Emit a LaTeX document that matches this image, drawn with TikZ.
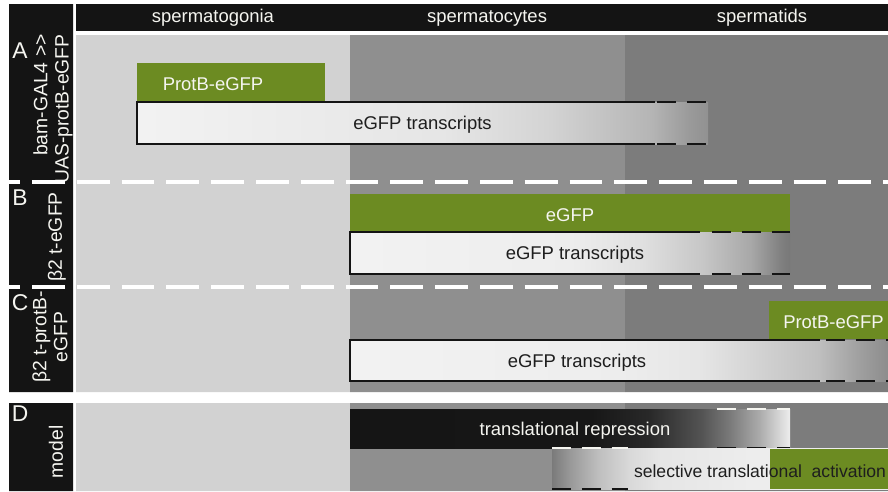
\documentclass[tikz,border=0pt]{standalone}
\usepackage{fontspec}
\setmainfont{Liberation Sans}
\usetikzlibrary{positioning,fit,calc}
\definecolor{mygreen}{RGB}{108,139,34}
\definecolor{mygonia}{RGB}{210,210,210}
\definecolor{mycytes}{RGB}{143,143,143}
\definecolor{mytids}{RGB}{124,124,124}
\definecolor{myblack}{RGB}{20,20,20}
\definecolor{mytext}{RGB}{30,30,30}
\definecolor{mywhite}{RGB}{245,245,240}
\pgfdeclarehorizontalshading{fadeA}{100bp}{color(0bp)=(black!5); color(25bp)=(black!5); color(52bp)=(black!10); color(61bp)=(black!17); color(70bp)=(black!29); color(73.5bp)=(black!40); color(75bp)=(black!43); color(100bp)=(black!43)}
\pgfdeclarehorizontalshading{fadeB}{100bp}{color(0bp)=(black!5); color(25bp)=(black!5); color(50bp)=(black!7); color(58bp)=(black!12); color(65bp)=(black!22); color(70.5bp)=(black!34); color(74bp)=(black!50); color(75bp)=(black!53); color(100bp)=(black!53)}
\pgfdeclarehorizontalshading{fadeC}{100bp}{color(0bp)=(black!5); color(25bp)=(black!5); color(50bp)=(black!7); color(57.5bp)=(black!10); color(68.5bp)=(black!25); color(72.5bp)=(black!38); color(75bp)=(black!45); color(100bp)=(black!45)}
\pgfdeclarehorizontalshading{fadeD}{100bp}{color(0bp)=(black!92); color(25bp)=(black!92); color(52.5bp)=(black!91); color(59bp)=(black!84); color(65bp)=(black!67); color(68bp)=(black!53); color(71.5bp)=(black!33); color(75bp)=(black!7); color(100bp)=(black!7)}
\pgfdeclarehorizontalshading{fadeE}{100bp}{color(0bp)=(black!52); color(25bp)=(black!52); color(27.7bp)=(black!40); color(32bp)=(black!25); color(36.5bp)=(black!15); color(41bp)=(black!10); color(55bp)=(black!7); color(75bp)=(black!7); color(100bp)=(black!7)}

\begin{document}
\begin{tikzpicture}[x=0.02cm,y=-0.02cm,
  txt/.style={font=\fontsize{10.5}{12.5}\selectfont},
  htext/.style={txt,text=mywhite},
  ttext/.style={txt,text=mytext},
  gl/.style={htext,yshift=-1pt},
  tl/.style={ttext,yshift=-1pt},
  gnode/.style={fill=mygreen,inner sep=0pt,outer sep=0pt},
  tnode/.style={shade,inner sep=0pt,outer sep=0pt},
  rnode/.style={text=mywhite,font=\fontsize{13}{15}\selectfont},
  lnode/.style={text=mywhite,font=\fontsize{11}{12}\selectfont,rotate=90,align=center,inner sep=0pt},
  rim/.style={draw=myblack,line width=1.2pt},
  dashrim/.style={rim,dash pattern=on 11pt off 6pt},
  wdashrim/.style={dashrim,draw=mywhite},
  sepline/.style={draw=white,line width=2.3pt,dash pattern=on 18.7pt off 6.8pt,dash phase=11.9pt}]

  \useasboundingbox (0,0) rectangle (888,491);
  \fill[white] (0,0) rectangle (888,491);

  % stages
  \fill[mygonia] (76,35) rectangle (350,392) (76,403) rectangle (350,491);
  \fill[mycytes] (350,35) rectangle (625,392) (350,403) rectangle (625,491);
  \fill[mytids] (625,35) rectangle (888,392) (625,403) rectangle (888,491);
  \fill[myblack] (76,4) rectangle (888,31);
  \fill[myblack] (9,4) rectangle (73,392) (9,403) rectangle (73,491);

  \node[htext] (gonia) at (213,18) {spermatogonia};
  \node[htext] (cytes) at (487,18) {spermatocytes};
  \node[htext] (tids) at (762,18) {spermatids};

  % row labels
  \node[rnode] (rowA) at (20,51) {A};
  \node[lnode,align=right] (labA) at (53,109) {bam-GAL4 >{}>\\UAS-protB-eGFP};
  \node[rnode] (rowB) at (20,198) {B};
  \node[lnode] (labB) at (57,237) {β2 t-eGFP};
  \node[rnode] (rowC) at (20,303) {C};
  \node[lnode] (labC) at (50,337) {β2 t-protB-\\eGFP};
  \node[rnode] (rowD) at (20,414) {D};
  \node[lnode] (labD) at (56,452) {model};

  \draw[sepline] (8,182) -- (888,182);
  \draw[sepline] (8,287) -- (888,287);

  % A
  \node[gnode,fit={(137,63) (325,102)},label={[gl,xshift=-0.36cm]center:ProtB-eGFP}] (protA) {};
  \node[tnode,shading=fadeA,fit={(137,102) (708,144)},label={[tl]center:eGFP transcripts}] (trA) {};
  \draw[rim] ($(trA.north west)+(518,0)$) -| (trA.south west) -- +(518,0);
  \draw[dashrim] ($(trA.north west)+(520,0)$) -- (trA.north east)
    ($(trA.south west)+(520,0)$) -- (trA.south east);

  % B
  \node[gnode,fit={(350,194) (790,232)},label={[gl]center:eGFP}] (gfpB) {};
  \node[tnode,shading=fadeB,fit={(350,232) (790,274)},label={[tl,xshift=0.1cm]center:eGFP transcripts}] (trB) {};
  \draw[rim] ($(trB.north west)+(350,0)$) -| (trB.south west) -- +(350,0);
  \draw[dashrim] ($(trB.north west)+(362,0)$) -- (trB.north east)
    ($(trB.south west)+(362,0)$) -- (trB.south east);

  % C
  \node[gnode,fit={(769,301) (888,339)},label={[gl,xshift=0.1cm]center:ProtB-eGFP}] (protC) {};
  \node[tnode,shading=fadeC,fit={(350,340) (888,381)},label={[tl,xshift=-0.84cm]center:eGFP transcripts}] (trC) {};
  \draw[rim] ($(trC.north west)+(470,0)$) -| (trC.south west) -- +(470,0);
  \draw[dashrim] ($(trC.north west)+(476,0)$) -- (trC.north east)
    ($(trC.south west)+(476,0)$) -- (trC.south east);

  % D
  \node[tnode,shading=fadeD,fit={(350,409) (790,448)},label={[gl,xshift=0.1cm]center:translational repression}] (repD) {};
  \draw[wdashrim] ($(repD.north west)+(367,0)$) -- (repD.north east);
  \draw[dashrim] ($(repD.south west)+(367,0)$) -- (repD.south east);
  \node[tnode,shading=fadeE,fit={(552,448) (888,489)}] (selD) {};
  \node[gnode,fit={(770,449) (888,489)}] (actD) {};
  \draw[wdashrim] (selD.north west) -- +(76,0);
  \draw[dashrim] (selD.south west) -- +(76,0);
  \node[tl,font=\fontsize{10}{12}\selectfont] (selT) at (760,469) {selective translational\ \ activation};
\end{tikzpicture}
\end{document}
